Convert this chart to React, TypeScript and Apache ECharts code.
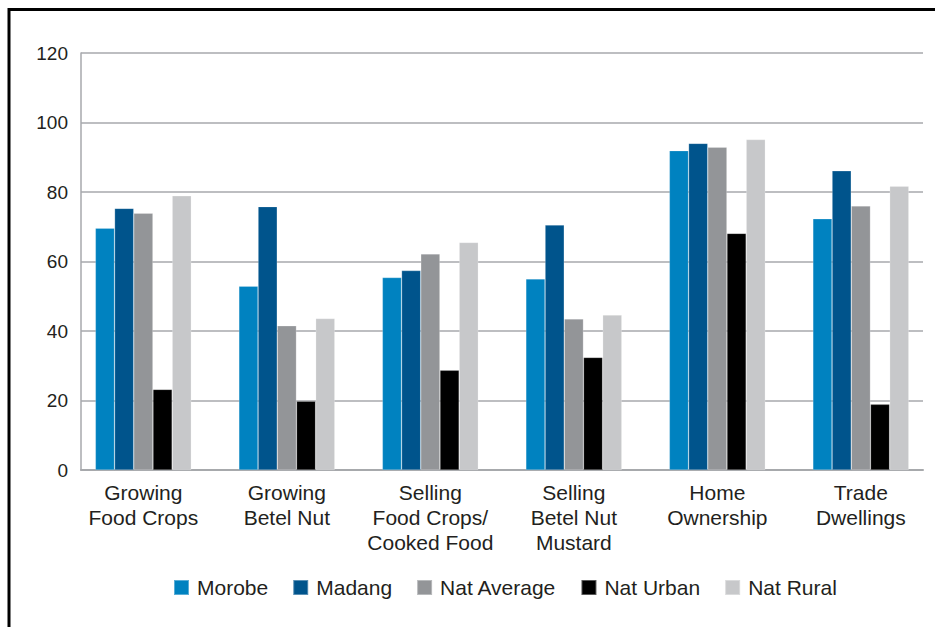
import React, { useEffect, useRef } from "react";
import * as echarts from "echarts";

const categories = [
  "Growing\nFood Crops",
  "Growing\nBetel Nut",
  "Selling\nFood Crops/\nCooked Food",
  "Selling\nBetel Nut\nMustard",
  "Home\nOwnership",
  "Trade\nDwellings",
];

const seriesNames = ["Morobe", "Madang", "Nat Average", "Nat Urban", "Nat Rural"];

const morobe = [69.6, 52.9, 55.4, 55.0, 91.9, 72.3];
const madang = [75.3, 75.8, 57.4, 70.5, 94.0, 86.1];
const natAverage = [73.9, 41.5, 62.2, 43.5, 92.9, 76.0];
const natUrban = [23.2, 19.8, 28.7, 32.4, 68.1, 18.9];
const natRural = [78.9, 43.6, 65.5, 44.6, 95.1, 81.7];

const yTicks = [0, 20, 40, 60, 80, 100, 120];

const colors = ["#0082c0", "#00548c", "#939598", "#000000", "#c7c8ca"];

const FONT = "'Liberation Sans', Arial, Helvetica, sans-serif";

export default function App() {
  const ref = useRef<HTMLDivElement>(null);

  useEffect(() => {
    if (!ref.current) return;
    const chart = echarts.init(ref.current, null, { renderer: "svg" });
    const values = [morobe, madang, natAverage, natUrban, natRural];
    const yMax = yTicks[yTicks.length - 1];

    chart.setOption({
      animation: false,
      backgroundColor: "#ffffff",
      color: colors,
      textStyle: { fontFamily: FONT, color: "#231f20" },
      grid: [
        // bar grid
        { left: 71.6, right: 2.4, top: 53, bottom: 157 },
        // axis / gridline frame
        { left: 81, right: 12, top: 53, bottom: 157 },
      ],
      legend: {
        data: seriesNames,
        left: 168,
        top: 572,
        itemWidth: 15,
        itemHeight: 15,
        itemGap: 24,
        icon: "rect",
        textStyle: {
          fontFamily: FONT,
          fontSize: 21,
          color: "#231f20",
          padding: [0, 0, 0, 3],
        },
      },
      xAxis: [
        {
          type: "category",
          gridIndex: 0,
          data: categories,
          axisLine: { show: false },
          axisTick: { show: false },
          axisLabel: {
            fontFamily: FONT,
            fontSize: 21,
            lineHeight: 25,
            color: "#231f20",
            margin: 10,
            interval: 0,
          },
        },
        {
          type: "category",
          gridIndex: 1,
          data: categories,
          axisLine: { show: true, lineStyle: { color: "#a7a9ac", width: 2 } },
          axisTick: { show: false },
          axisLabel: { show: false },
        },
      ],
      yAxis: [
        {
          type: "value",
          gridIndex: 0,
          min: 0,
          max: yMax,
          interval: 20,
          show: false,
          splitLine: { show: false },
        },
        {
          type: "value",
          gridIndex: 1,
          min: 0,
          max: yMax,
          interval: 20,
          axisLine: { show: true, lineStyle: { color: "#a7a9ac", width: 1.5 } },
          axisTick: { show: false },
          axisLabel: {
            fontFamily: FONT,
            fontSize: 19,
            color: "#231f20",
            margin: 13,
          },
          splitLine: { show: true, lineStyle: { color: "#a7a9ac", width: 1.5 } },
        },
      ],
      series: seriesNames.map((name, i) => ({
        name,
        type: "bar",
        xAxisIndex: 0,
        yAxisIndex: 0,
        data: values[i],
        barWidth: 19.2,
        barGap: "0%",
        itemStyle: {
          color: colors[i],
          borderColor: "rgba(255,255,255,0.35)",
          borderWidth: 0.6,
        },
      })),
      graphic: [
        {
          type: "line",
          shape: { x1: 9, y1: 9.5, x2: 935, y2: 9.5 },
          style: { stroke: "#000000", lineWidth: 3 },
        },
        {
          type: "line",
          shape: { x1: 9, y1: 8, x2: 9, y2: 627 },
          style: { stroke: "#000000", lineWidth: 3 },
        },
      ],
    });

    return () => chart.dispose();
  }, []);

  return (
    <div
      ref={ref}
      style={{ position: "fixed", left: 0, top: 0, width: 935, height: 627 }}
    />
  );
}
